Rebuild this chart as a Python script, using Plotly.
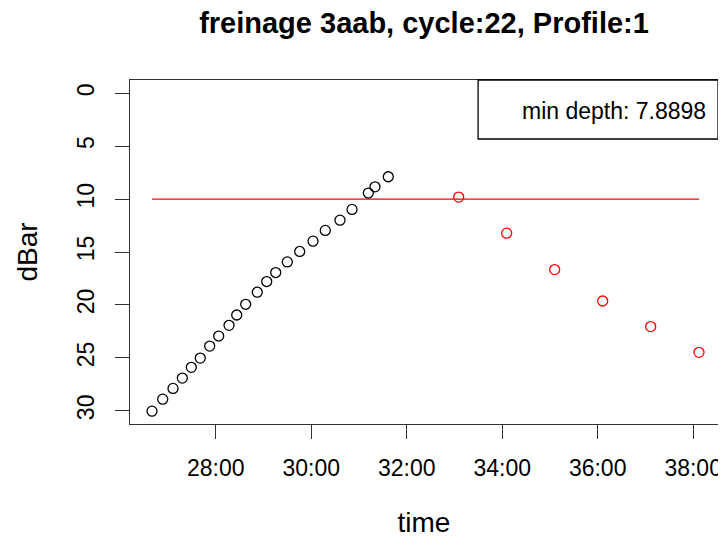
import plotly.graph_objects as go

# descent profile (minutes after the hour, pressure in dBar)
time_black = [26.666, 26.890, 27.106, 27.301, 27.489, 27.677, 27.874, 28.063,
              28.279, 28.440, 28.628, 28.871, 29.068, 29.257, 29.499, 29.759,
              30.038, 30.295, 30.603, 30.855, 31.196, 31.336, 31.615]
dbar_black = [30.04, 28.90, 27.89, 26.91, 25.90, 25.02, 23.89, 22.94,
              21.93, 20.95, 19.94, 18.80, 17.79, 16.94, 15.94, 14.95,
              13.98, 12.96, 11.99, 10.98, 9.43, 8.84, 7.8898]

# points after braking ("freinage")
time_red = [33.089, 34.094, 35.099, 36.105, 37.110, 38.122]
dbar_red = [9.81, 13.22, 16.66, 19.63, 22.05, 24.48]

threshold = 10
x_ticks = [28, 30, 32, 34, 36, 38]
x_tick_labels = ["28:00", "30:00", "32:00", "34:00", "36:00", "38:00"]
y_ticks = [0, 5, 10, 15, 20, 25, 30]

FONT = "Liberation Sans, Arial, sans-serif"

# the page body keeps an 8px margin, so the figure is 8px smaller than the window
W, H = 718, 530

fig = go.Figure()
fig.add_trace(go.Scatter(
    x=[time_black[0], time_red[-1]], y=[threshold, threshold],
    mode="lines", line=dict(color="#ff0000", width=1.3), showlegend=False,
))
fig.add_trace(go.Scatter(
    x=time_black, y=dbar_black, mode="markers",
    marker=dict(symbol="circle-open", size=10, color="black", line=dict(width=1.3)),
    showlegend=False,
))
fig.add_trace(go.Scatter(
    x=time_red, y=dbar_red, mode="markers",
    marker=dict(symbol="circle-open", size=10, color="#ff0000", line=dict(width=1.3)),
    showlegend=False,
))

# legend-style box in top right corner
fig.add_shape(type="rect", xref="paper", yref="paper",
              x0=0.592, x1=1, y0=0.8285, y1=1,
              line=dict(color="black", width=1.3), fillcolor="white")
fig.add_annotation(xref="paper", yref="paper", x=0.823, y=0.91,
                   text="min depth: 7.8898", showarrow=False,
                   font=dict(family=FONT, size=23, color="black"),
                   xanchor="center", yanchor="middle")

fig.update_layout(
    width=W, height=H,
    margin=dict(l=122, r=8, t=72, b=114),
    paper_bgcolor="white", plot_bgcolor="white",
    font=dict(family=FONT, size=23, color="black"),
    title=dict(text="<b>freinage 3aab, cycle:22, Profile:1</b>",
               x=0.5, xref="paper", xanchor="center",
               y=1 - 15 / H, yanchor="middle",
               font=dict(family=FONT, size=29, color="black")),
    xaxis=dict(range=[26.205, 38.52], tickvals=x_ticks, ticktext=x_tick_labels,
               showgrid=False, zeroline=False, showline=True, mirror=True,
               linecolor="#333333", linewidth=1.3, automargin=False,
               ticks="outside", ticklen=14, tickwidth=1.3, tickcolor="#333333",
               ticklabelstandoff=9,
               title=dict(text="time", standoff=34)),
    yaxis=dict(range=[31.25, -1.25], tickvals=y_ticks, tickangle=-90,
               showgrid=False, zeroline=False, showline=True, mirror=True,
               linecolor="#333333", linewidth=1.3, automargin=False,
               ticks="outside", ticklen=14, tickwidth=1.3, tickcolor="#333333",
               ticklabelstandoff=12,
               title=dict(text="dBar", standoff=26)),
)

fig.write_html("out.html")
